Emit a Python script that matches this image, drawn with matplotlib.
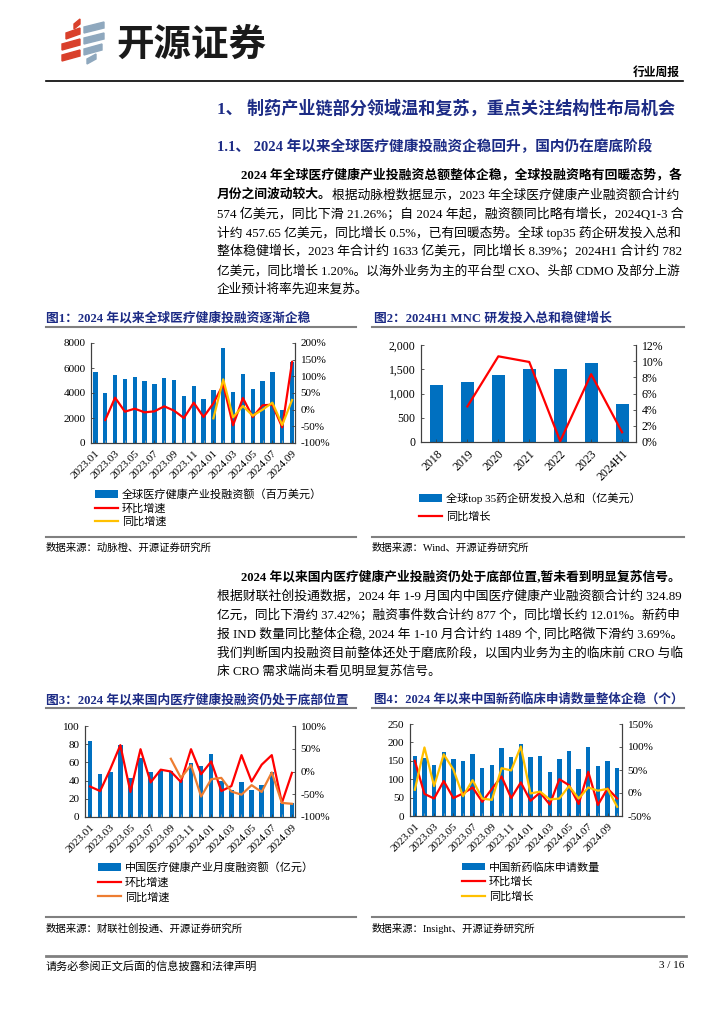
import numpy as np
import matplotlib.pyplot as plt
from matplotlib.patches import Polygon
from matplotlib.lines import Line2D
from matplotlib.ticker import FuncFormatter

plt.rcParams['font.family'] = ['Liberation Serif', 'Noto Sans CJK SC']

# ---- data ----
months = ['2023.01', '2023.02', '2023.03', '2023.04', '2023.05', '2023.06', '2023.07',
          '2023.08', '2023.09', '2023.10', '2023.11', '2023.12', '2024.01', '2024.02',
          '2024.03', '2024.04', '2024.05', '2024.06', '2024.07', '2024.08', '2024.09']
months4 = months + ['2024.10']

# fig1: global healthcare financing (million USD)
fund1 = [5700, 3980, 5430, 5090, 5320, 4930, 4720, 5220, 5030, 3760, 4580, 3520,
         4240, 7600, 4100, 5560, 4340, 4950, 5720, 2650, 6490]
mom1 = [np.nan, -31, 36, -6, 3, -8, -5, 10, -3, -25, 21, -22,
        19, 76, -47, 35, -22, 13, 15, -53, 143]
yoy1 = [np.nan] * 12 + [-26, 91, -23, 11, -18, 0, 21, -46, 29]

# fig2: top35 pharma R&D (100m USD)
years2 = ['2018', '2019', '2020', '2021', '2022', '2023', '2024H1']
rd2 = [1185, 1240, 1375, 1500, 1505, 1633, 782]
growth2 = [np.nan, 4.4, 10.6, 9.9, 0.1, 8.39, 1.2]

# fig3: China healthcare monthly financing (100m CNY)
fund3 = [83, 47, 49, 79, 43, 65, 49, 51, 51, 41, 59, 56,
         69, 40, 30, 39, 30, 35, 49, 15, 15]
mom3 = [-33, -43, 5, 58, -45, 49, -24, 4, 0, -23, 49, -6,
        22, -43, -32, 36, -22, 15, 36, -69, -3]
yoy3 = [np.nan] * 8 + [28, -14, 14, -55, -17, -14, -44, -51, -30, -45, -2, -69, -71]

# fig4: China new drug clinical applications
ind4 = [163, 158, 139, 175, 154, 149, 168, 130, 138, 186, 161, 197,
        159, 163, 119, 154, 177, 129, 188, 136, 149, 130]
mom4 = [70, -2, -12, 26, -11, -1, 12, -19, 9, 36, -11, 23,
        -17, 1, -25, 30, 17, -24, 46, -26, 10, -12]
yoy4 = [7, 99, 15, 84, 51, -7, 28, -12, -15, 54, 49, 101,
        -1, 3, -14, -12, 15, -12, 12, 5, 9, -30]

W, H = 724, 1024
BLUE = '#0070C0'
RED = '#FF0000'
NAVY = '#1C2B85'
GRAY = '#808080'

fig = plt.figure(figsize=(7.24, 10.24), dpi=100)
r = fig.canvas.get_renderer()


def fx(x):
    return x / W


def fy(y):
    return 1 - y / H


def hline(x0, x1, y, color=GRAY, lw=1.5):
    fig.add_artist(Line2D([fx(x0), fx(x1)], [fy(y), fy(y)], color=color, lw=lw))


def put(x, y, s, size, **kw):
    return fig.text(fx(x), fy(y), s, fontsize=size, va='center', **kw)


def fit_line(x0, x1, y, segs, size, color='black'):
    # lay out segments left to right, then scale so the line spans x0..x1
    arts = []
    x = x0
    for s, w in segs:
        t = put(x, y, s, size, fontweight=w, color=color, ha='left')
        x += t.get_window_extent(r).width
        arts.append(t)
    if x1 is None:
        return size
    k = (x1 - x0) / (x - x0)
    x = x0
    for t in arts:
        t.set_fontsize(size * k)
        t.set_x(fx(x))
        x += t.get_window_extent(r).width
    return size * k


def ax_at(l, rr, t, b):
    return fig.add_axes([fx(l), fy(b), fx(rr - l), (b - t) / H])


def style(ax, ax2):
    for a in (ax, ax2):
        a.spines['top'].set_visible(False)
        for s in ('left', 'right', 'bottom'):
            a.spines[s].set_color('#404040')
            a.spines[s].set_linewidth(0.8)
        a.tick_params(direction='in', length=2.5, width=0.6, color='#404040',
                      labelsize=8, pad=4)
    ax.tick_params(axis='x', which='minor', direction='in', length=2, color='#999999')


# ---- header ----
for x0, y0, w, h, c in [(66, 33, 14, 6, '#D9402B'), (62, 44, 18, 6, '#D9402B'),
                        (62, 55, 18, 6, '#D9402B'), (74, 24, 6, 5, '#D9402B'),
                        (84, 27, 20, 6, '#8FA8BE'), (84, 38, 20, 6, '#8FA8BE'),
                        (84, 49, 18, 6, '#8FA8BE'), (87, 59, 9, 5, '#8FA8BE')]:
    pts = [(fx(x0), fy(y0 + h)), (fx(x0 + w), fy(y0 + h - 5)),
           (fx(x0 + w), fy(y0 - 5)), (fx(x0), fy(y0))]
    fig.add_artist(Polygon(pts, closed=True, color=c, transform=fig.transFigure))
put(116, 44, '开源证券', 27, fontweight='bold', family='Noto Sans CJK SC', color='#1A1A1A')
put(680, 73, '行业周报', 8.5, fontweight='bold', ha='right')
hline(46, 683, 81, color='black', lw=1.2)

fit_line(217, 673, 109, [('1、 制药产业链部分领域温和复苏，重点关注结构性布局机会', 'bold')], 12, NAVY)
fit_line(217, 654, 147, [('1.1、 2024 年以来全球医疗健康投融资企稳回升，国内仍在磨底阶段', 'bold')], 11.5, NAVY)

# ---- paragraph 1 ----
fit_line(241, 683, 176, [('2024 年全球医疗健康产业投融资总额整体企稳，全球投融资略有回暖态势，各', 'bold')], 10.5)
fit_line(217, 683, 195, [('月份之间波动较大。', 'bold'),
                         ('根据动脉橙数据显示，2023 年全球医疗健康产业融资额合计约', 'normal')], 10.5)
p1 = ['574 亿美元，同比下滑 21.26%；自 2024 年起，融资额同比略有增长，2024Q1-3 合',
      '计约 457.65 亿美元，同比增长 0.5%，已有回暖态势。全球 top35 药企研发投入总和',
      '整体稳健增长，2023 年合计约 1633 亿美元，同比增长 8.39%；2024H1 合计约 782',
      '亿美元，同比增长 1.20%。以海外业务为主的平台型 CXO、头部 CDMO 及部分上游']
for i, s in enumerate(p1):
    sz = fit_line(217, 683, 214 + 19 * i, [(s, 'normal')], 10.5)
fit_line(217, None, 290, [('企业预计将率先迎来复苏。', 'normal')], sz)

# ---- paragraph 2 ----
fit_line(241, 683, 577, [('2024 年以来国内医疗健康产业投融资仍处于底部位置,暂未看到明显复苏信号。', 'bold')], 10.5)
p2 = ['根据财联社创投通数据，2024 年 1-9 月国内中国医疗健康产业融资额合计约 324.89',
      '亿元，同比下滑约 37.42%；融资事件数合计约 877 个，同比增长约 12.01%。新药申',
      '报 IND 数量同比整体企稳, 2024 年 1-10 月合计约 1489 个, 同比略微下滑约 3.69%。',
      '我们判断国内投融资目前整体还处于磨底阶段，以国内业务为主的临床前 CRO 与临']
for i, s in enumerate(p2):
    sz = fit_line(217, 683, 596 + 19 * i, [(s, 'normal')], 10.5)
fit_line(217, None, 672, [('床 CRO 需求端尚未看见明显复苏信号。', 'normal')], sz)

# ---- figure titles / rules / sources ----
fit_line(46, 311, 318, [('图1：2024 年以来全球医疗健康投融资逐渐企稳', 'bold')], 10, NAVY)
fit_line(374, 612, 318, [('图2：2024H1 MNC 研发投入总和稳健增长', 'bold')], 10, NAVY)
fit_line(46, 350, 700, [('图3：2024 年以来国内医疗健康投融资仍处于底部位置', 'bold')], 10, NAVY)
fit_line(374, 684, 700, [('图4：2024 年以来中国新药临床申请数量整体企稳（个）', 'bold')], 10, NAVY)
for y in (327, 537, 708, 917):
    hline(46, 356, y)
    hline(372, 684, y)
put(46, 548, '数据来源：动脉橙、开源证券研究所', 7.5)
put(372, 548, '数据来源：Wind、开源证券研究所', 7.5)
put(46, 929, '数据来源：财联社创投通、开源证券研究所', 7.5)
put(372, 929, '数据来源：Insight、开源证券研究所', 7.5)

hline(46, 686, 956, lw=2)
put(46, 966, '请务必参阅正文后面的信息披露和法律声明', 8)
put(684, 966, '3 / 16', 8, ha='right')

pct = FuncFormatter(lambda v, _: f'{v:.0f}%')


def legend(handles, labels, x, y, gap):
    fig.legend(handles, labels, loc='upper left', bbox_to_anchor=(fx(x), fy(y)),
               frameon=False, fontsize=8, handlelength=2.1, handletextpad=0.3,
               labelspacing=gap, borderpad=0, borderaxespad=0)


def month_axis(ax, n, labels, xlim):
    ax.set_xlim(*xlim)
    ax.set_xticks(range(0, n, 2))
    ax.set_xticklabels(labels[0:n:2], rotation=45, ha='right',
                       va='top', rotation_mode='anchor', fontsize=8)
    ax.set_xticks(range(n), minor=True)


# ---- chart 1 ----
ax = ax_at(91, 295, 343, 443)
x = np.arange(len(months))
b1 = ax.bar(x, fund1, width=0.45, color=BLUE)
ax.set_ylim(0, 8000)
ax.set_yticks(range(0, 8001, 2000))
ax2 = ax.twinx()
l1, = ax2.plot(x, mom1, color=RED, lw=1.6)
l2, = ax2.plot(x, yoy1, color='#FFC000', lw=1.6)
ax2.set_ylim(-100, 200)
ax2.set_yticks(range(-100, 201, 50))
ax2.yaxis.set_major_formatter(pct)
month_axis(ax, len(months), months, (-0.45, 20.3))
style(ax, ax2)
legend([b1, l1, l2], ['全球医疗健康产业投融资额（百万美元）', '环比增速', '同比增速'], 95, 489, 0.3)

# ---- chart 2 ----
ax = ax_at(421, 636, 345, 442)
x = np.arange(len(years2))
b1 = ax.bar(x, rd2, width=0.42, color=BLUE)
ax.set_ylim(0, 2000)
ax.set_yticks(range(0, 2001, 500))
ax.yaxis.set_major_formatter(FuncFormatter(lambda v, _: f'{v:,.0f}'))
ax2 = ax.twinx()
l1, = ax2.plot(x, growth2, color=RED, lw=1.6)
ax2.set_ylim(0, 12)
ax2.set_yticks(range(0, 13, 2))
ax2.yaxis.set_major_formatter(pct)
ax.set_xlim(-0.5, 6.45)
ax.set_xticks(x)
ax.set_xticklabels(years2, rotation=45, ha='right', va='top', rotation_mode='anchor')
style(ax, ax2)
for a in (ax, ax2):
    a.tick_params(labelsize=8.5)
legend([b1, l1], ['全球top 35药企研发投入总和（亿美元）', '同比增长'], 419, 492, 0.75)

# ---- chart 3 ----
ax = ax_at(85, 295, 726, 817)
x = np.arange(len(months))
b1 = ax.bar(x, fund3, width=0.45, color=BLUE)
ax.set_ylim(0, 100)
ax.set_yticks(range(0, 101, 20))
ax2 = ax.twinx()
l1, = ax2.plot(x, mom3, color=RED, lw=1.6)
l2, = ax2.plot(x, yoy3, color='#ED7D31', lw=1.6)
ax2.set_ylim(-100, 100)
ax2.set_yticks(range(-100, 101, 50))
ax2.yaxis.set_major_formatter(pct)
month_axis(ax, len(months), months, (-0.5, 20.3))
style(ax, ax2)
legend([b1, l1, l2], ['中国医疗健康产业月度融资额（亿元）', '环比增速', '同比增速'], 98, 862, 0.4)

# ---- chart 4 ----
ax = ax_at(410, 622, 724, 816)
x = np.arange(len(months4))
b1 = ax.bar(x, ind4, width=0.45, color=BLUE)
ax.set_ylim(0, 250)
ax.set_yticks(range(0, 251, 50))
ax2 = ax.twinx()
l1, = ax2.plot(x, mom4, color=RED, lw=1.6)
l2, = ax2.plot(x, yoy4, color='#FFC000', lw=1.6)
ax2.set_ylim(-50, 150)
ax2.set_yticks(range(-50, 151, 50))
ax2.yaxis.set_major_formatter(pct)
month_axis(ax, len(months4), months4, (-0.5, 21.5))
style(ax, ax2)
legend([b1, l1, l2], ['中国新药临床申请数量', '环比增长', '同比增长'], 462, 862, 0.4)

fig.savefig('out.png', dpi=100)
